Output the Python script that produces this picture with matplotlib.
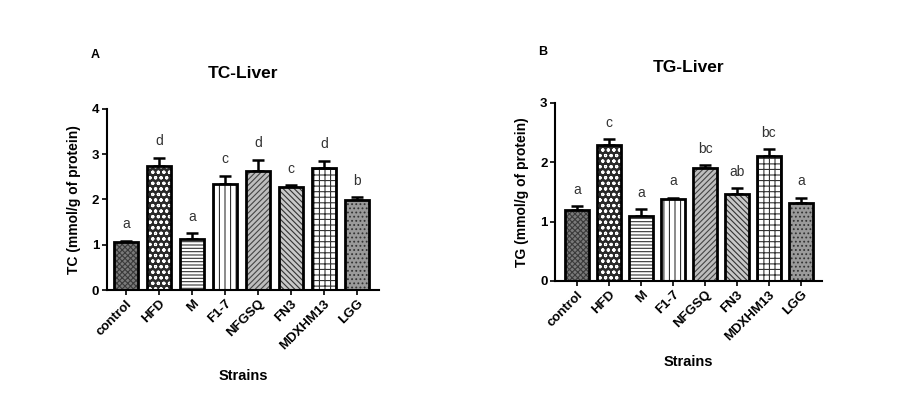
import matplotlib
matplotlib.use("Agg")
import matplotlib.pyplot as plt
import numpy as np

plt.rcParams['font.family'] = ['Liberation Sans', 'DejaVu Sans']
plt.rcParams['hatch.linewidth'] = 0.8

strains = ["control", "HFD", "M", "F1-7", "NFGSQ", "FN3", "MDXHM13", "LGG"]

tc_mean = [1.05, 2.75, 1.13, 2.35, 2.62, 2.28, 2.70, 1.98]
tc_err = [0.04, 0.17, 0.12, 0.17, 0.26, 0.03, 0.15, 0.07]
tc_letters = ["a", "d", "a", "c", "d", "c", "d", "b"]

tg_mean = [1.20, 2.30, 1.09, 1.38, 1.90, 1.47, 2.10, 1.32]
tg_err = [0.06, 0.09, 0.12, 0.02, 0.05, 0.09, 0.12, 0.08]
tg_letters = ["a", "c", "a", "a", "bc", "ab", "bc", "a"]

# fill / hatch / hatch colour for each strain
styles = [
    ("#7a7a7a", "xxxxxx", "#3a3a3a"),
    ("#2a2a2a", "ooo", "#ffffff"),
    ("#ffffff", "-----", "#333333"),
    ("#ffffff", "|||", "#333333"),
    ("#bdbdbd", "//////", "#444444"),
    ("#c8c8c8", "\\\\\\\\\\\\", "#333333"),
    ("#ffffff", "+++", "#333333"),
    ("#9a9a9a", "....", "#333333"),
]


def draw_panel(ax, means, errs, letters, ymax, title, ylabel, xlim, xpad):
    x = np.arange(len(strains))
    for i in range(len(strains)):
        fc, hatch, hc = styles[i]
        ax.bar(x[i], means[i], width=0.74, color=fc, hatch=hatch,
               edgecolor=hc, linewidth=0, zorder=2)
        ax.bar(x[i], means[i], width=0.74, color="none",
               edgecolor="black", linewidth=2, zorder=3)
    ax.errorbar(x, means, yerr=[np.zeros(len(errs)), errs], fmt="none",
                ecolor="black", elinewidth=1.8, capsize=4, capthick=1.8, zorder=1)
    for i in range(len(strains)):
        ax.annotate(letters[i], (x[i], means[i] + errs[i]), xytext=(0, 12),
                    textcoords="offset points", ha="center", va="center",
                    fontsize=10, color="#333333")
    ax.set_xlim(*xlim)
    ax.set_ylim(0, ymax)
    ax.set_yticks(range(ymax + 1))
    ax.set_xticks(x)
    ax.set_xticklabels(strains, rotation=45, ha="right", rotation_mode="anchor",
                       fontsize=9.5, fontweight="bold")
    for lab in ax.get_yticklabels():
        lab.set_fontweight("bold")
        lab.set_fontsize(9.5)
    for s in ["top", "right"]:
        ax.spines[s].set_visible(False)
    for s in ["left", "bottom"]:
        ax.spines[s].set_linewidth(1.5)
    ax.tick_params(axis="both", width=1.2, length=3.5, pad=2)
    ax.set_title(title, fontsize=12.5, fontweight="bold", pad=22)
    ax.set_ylabel(ylabel, fontsize=10, fontweight="bold", labelpad=8)
    ax.set_xlabel("Strains", fontsize=10.5, fontweight="bold", labelpad=xpad)


fig = plt.figure(figsize=(9.19, 3.97), dpi=100)
ax1 = fig.add_axes([0.1164, 0.2695, 0.296, 0.456])
ax2 = fig.add_axes([0.604, 0.2922, 0.2905, 0.4484])

draw_panel(ax1, tc_mean, tc_err, tc_letters, 4, "TC-Liver",
           "TC (mmol/g of protein)", (-0.58, 7.67), 12)
draw_panel(ax2, tg_mean, tg_err, tg_letters, 3, "TG-Liver",
           "TG (mmol/g of protein)", (-0.69, 7.66), 9)

fig.text(95 / 919, 1 - 55 / 397, "A", fontsize=9, fontweight="bold",
         ha="center", va="center")
fig.text(543 / 919, 1 - 52 / 397, "B", fontsize=9, fontweight="bold",
         ha="center", va="center")

fig.savefig("out.png", dpi=100)
